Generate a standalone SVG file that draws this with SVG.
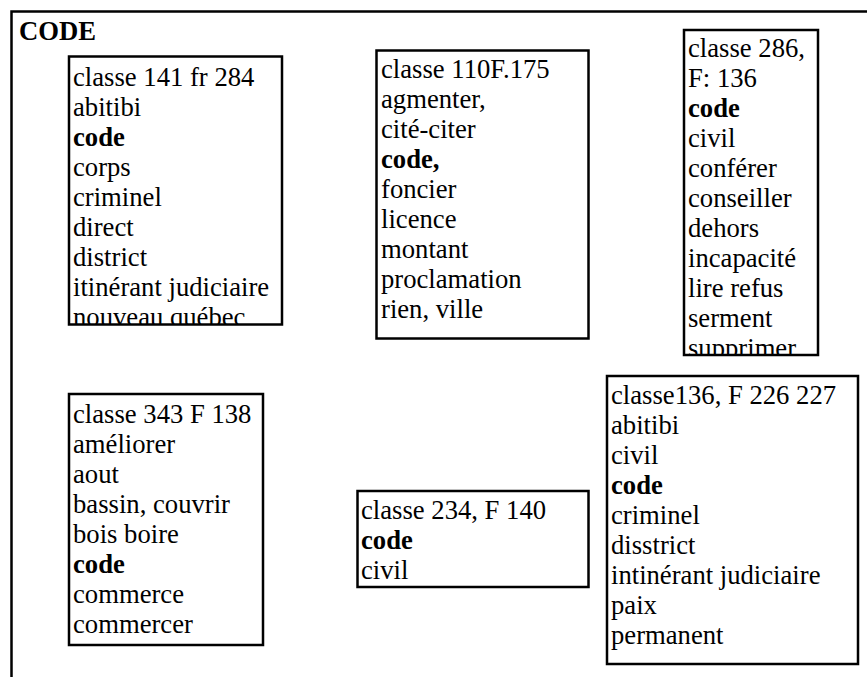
<svg xmlns="http://www.w3.org/2000/svg" width="867" height="677" viewBox="0 0 867 677">
<style>
.b{font-weight:bold}
.box{fill:#fff;stroke:#000;stroke-width:2.5}
.frame{fill:none;stroke:#000;stroke-width:2.5}
</style>
<defs>
<clipPath id="c1"><rect x="70" y="57" width="211" height="267"/></clipPath>
<clipPath id="c3"><rect x="685" y="31" width="132" height="323"/></clipPath>
</defs>
<rect width="867" height="677" fill="#fff"/>
<g id="frame">
<path class="frame" d="M11.5,677 V11.5 H867"/>
<text font-family="Liberation Serif" font-size="26.67" font-weight="bold" x="19" y="40">CODE</text>
</g>
<g id="connectors"></g>
<g id="n1">
<rect class="box" x="69" y="56.5" width="213" height="268"/>
<g clip-path="url(#c1)">
<text font-family="Liberation Serif" font-size="26.67" x="73" y="86">classe 141 fr 284</text>
<text font-family="Liberation Serif" font-size="26.67" x="73" y="116">abitibi</text>
<text font-family="Liberation Serif" font-size="26.67" font-weight="bold" x="73" y="146">code</text>
<text font-family="Liberation Serif" font-size="26.67" x="73" y="176">corps</text>
<text font-family="Liberation Serif" font-size="26.67" x="73" y="206">criminel</text>
<text font-family="Liberation Serif" font-size="26.67" x="73" y="236">direct</text>
<text font-family="Liberation Serif" font-size="26.67" x="73" y="266">district</text>
<text font-family="Liberation Serif" font-size="26.67" x="73" y="296">itinérant judiciaire</text>
<text font-family="Liberation Serif" font-size="26.67" x="73" y="326">nouveau québec</text>
</g>
</g>
<g id="n2">
<rect class="box" x="376.5" y="50.5" width="212" height="288"/>
<text font-family="Liberation Serif" font-size="26.67" x="381" y="78">classe 110F.175</text>
<text font-family="Liberation Serif" font-size="26.67" x="381" y="108">agmenter,</text>
<text font-family="Liberation Serif" font-size="26.67" x="381" y="138">cité-citer</text>
<text font-family="Liberation Serif" font-size="26.67" font-weight="bold" x="381" y="168">code,</text>
<text font-family="Liberation Serif" font-size="26.67" x="381" y="198">foncier</text>
<text font-family="Liberation Serif" font-size="26.67" x="381" y="228">licence</text>
<text font-family="Liberation Serif" font-size="26.67" x="381" y="258">montant</text>
<text font-family="Liberation Serif" font-size="26.67" x="381" y="288">proclamation</text>
<text font-family="Liberation Serif" font-size="26.67" x="381" y="318">rien, ville</text>
</g>
<g id="n3">
<rect class="box" x="684" y="30" width="134" height="325"/>
<g clip-path="url(#c3)">
<text font-family="Liberation Serif" font-size="26.67" x="688" y="57">classe 286,</text>
<text font-family="Liberation Serif" font-size="26.67" x="688" y="87">F: 136</text>
<text font-family="Liberation Serif" font-size="26.67" font-weight="bold" x="688" y="117">code</text>
<text font-family="Liberation Serif" font-size="26.67" x="688" y="147">civil</text>
<text font-family="Liberation Serif" font-size="26.67" x="688" y="177">conférer</text>
<text font-family="Liberation Serif" font-size="26.67" x="688" y="207">conseiller</text>
<text font-family="Liberation Serif" font-size="26.67" x="688" y="237">dehors</text>
<text font-family="Liberation Serif" font-size="26.67" x="688" y="267">incapacité</text>
<text font-family="Liberation Serif" font-size="26.67" x="688" y="297">lire refus</text>
<text font-family="Liberation Serif" font-size="26.67" x="688" y="327">serment</text>
<text font-family="Liberation Serif" font-size="26.67" x="688" y="357">supprimer</text>
</g>
</g>
<g id="n4">
<rect class="box" x="69" y="394" width="194" height="251"/>
<text font-family="Liberation Serif" font-size="26.67" x="73" y="423">classe 343 F 138</text>
<text font-family="Liberation Serif" font-size="26.67" x="73" y="453">améliorer</text>
<text font-family="Liberation Serif" font-size="26.67" x="73" y="483">aout</text>
<text font-family="Liberation Serif" font-size="26.67" x="73" y="513">bassin, couvrir</text>
<text font-family="Liberation Serif" font-size="26.67" x="73" y="543">bois boire</text>
<text font-family="Liberation Serif" font-size="26.67" font-weight="bold" x="73" y="573">code</text>
<text font-family="Liberation Serif" font-size="26.67" x="73" y="603">commerce</text>
<text font-family="Liberation Serif" font-size="26.67" x="73" y="633">commercer</text>
</g>
<g id="n5">
<rect class="box" x="357.5" y="491" width="231" height="96"/>
<text font-family="Liberation Serif" font-size="26.67" x="361" y="519">classe 234, F 140</text>
<text font-family="Liberation Serif" font-size="26.67" font-weight="bold" x="361" y="549">code</text>
<text font-family="Liberation Serif" font-size="26.67" x="361" y="579">civil</text>
</g>
<g id="n6">
<rect class="box" x="607" y="376" width="251" height="288"/>
<text font-family="Liberation Serif" font-size="26.67" x="611" y="404">classe136, F 226 227</text>
<text font-family="Liberation Serif" font-size="26.67" x="611" y="434">abitibi</text>
<text font-family="Liberation Serif" font-size="26.67" x="611" y="464">civil</text>
<text font-family="Liberation Serif" font-size="26.67" font-weight="bold" x="611" y="494">code</text>
<text font-family="Liberation Serif" font-size="26.67" x="611" y="524">criminel</text>
<text font-family="Liberation Serif" font-size="26.67" x="611" y="554">disstrict</text>
<text font-family="Liberation Serif" font-size="26.67" x="611" y="584">intinérant judiciaire</text>
<text font-family="Liberation Serif" font-size="26.67" x="611" y="614">paix</text>
<text font-family="Liberation Serif" font-size="26.67" x="611" y="644">permanent</text>
</g>
</svg>
